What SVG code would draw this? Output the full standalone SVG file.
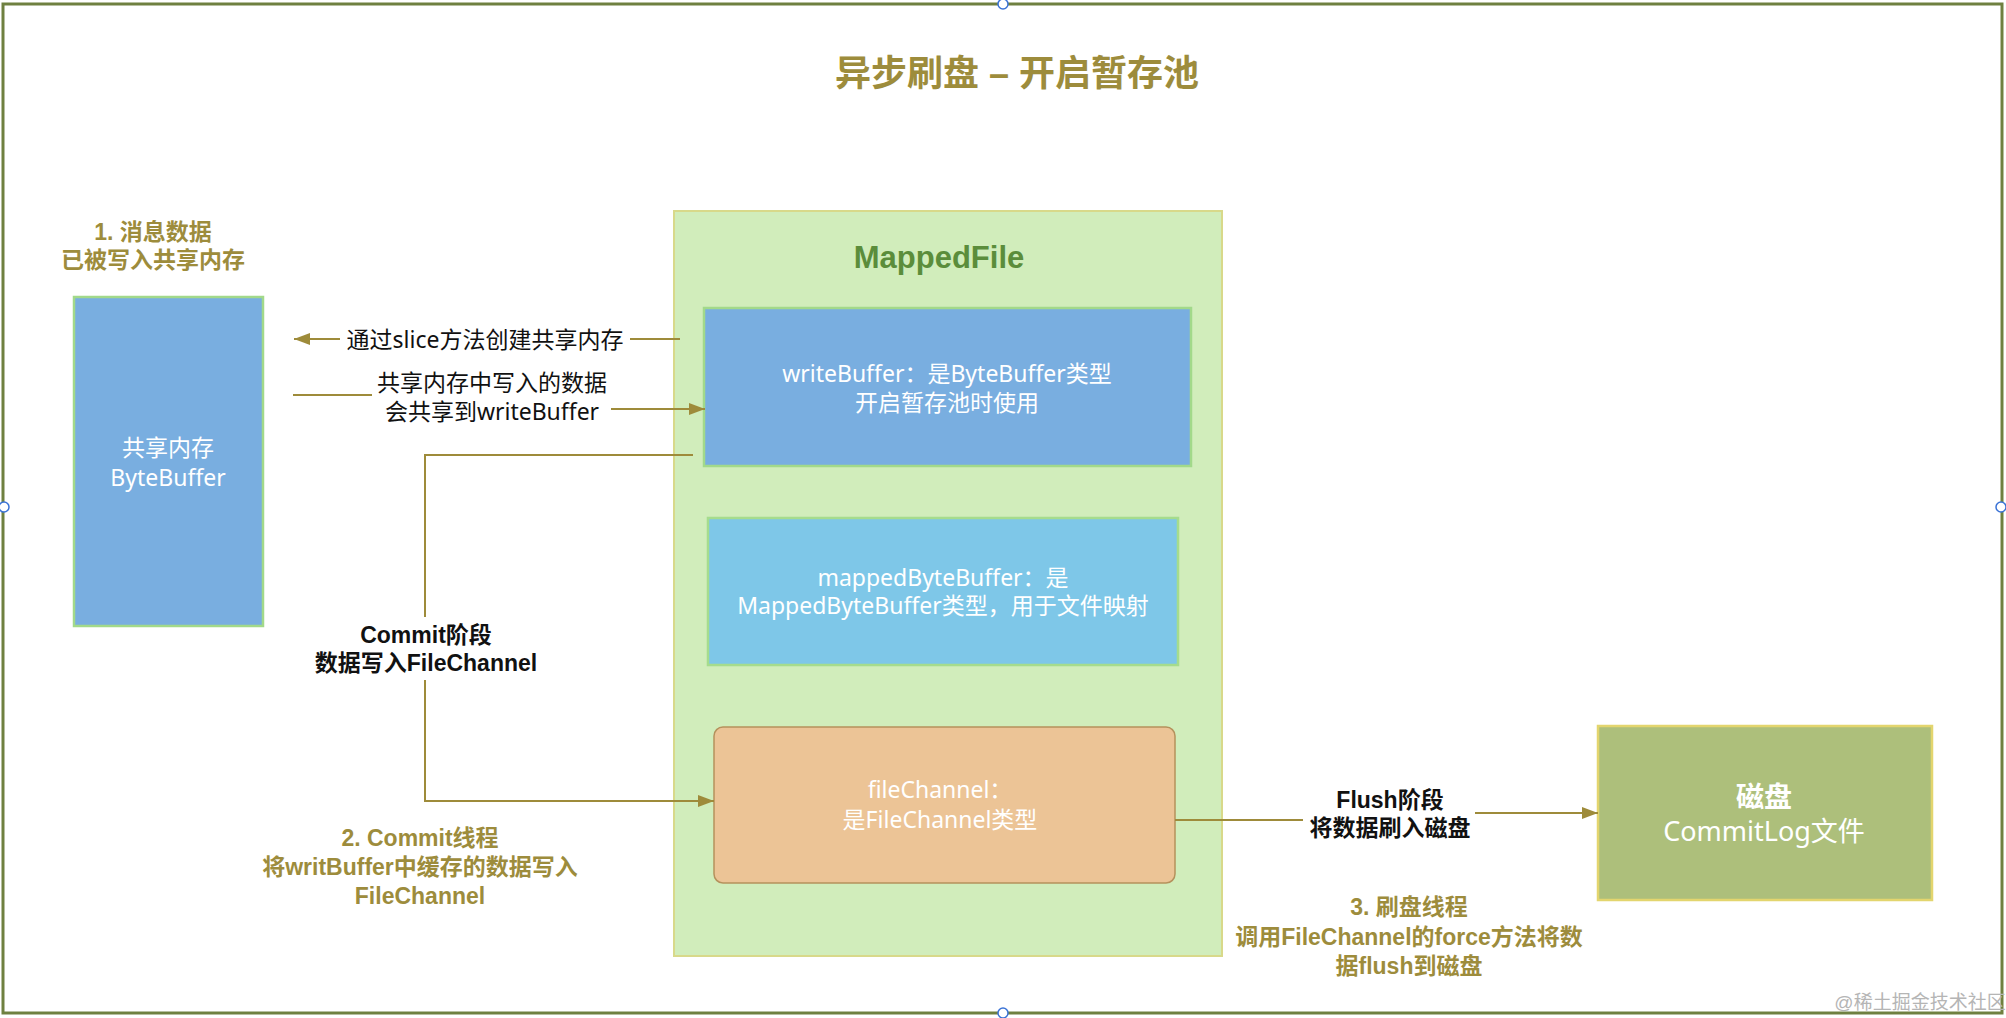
<svg xmlns="http://www.w3.org/2000/svg" width="2006" height="1018" viewBox="0 0 2006 1018">
<defs>
<style>
text{font-family:"Liberation Sans","Noto Sans CJK SC",sans-serif;text-anchor:middle;dominant-baseline:central}
.olive{fill:#9d8c3c;font-weight:bold;font-size:23px}
.lbl{fill:#111;font-size:23px;font-family:"Noto Sans","Noto Sans CJK SC",sans-serif}
.lblb{fill:#111;font-size:23px;font-weight:bold}
.wt{fill:#fff;font-size:23px;font-family:"Noto Sans","Noto Sans CJK SC",sans-serif}
.conn{fill:none;stroke:#9e8b3a;stroke-width:2;marker-end:url(#ah)}
.bg{fill:#fff}
.handle{fill:#fff;stroke:#3b73d6;stroke-width:1.5}
</style>
<marker id="ah" markerWidth="16" markerHeight="12" refX="16" refY="6" orient="auto" markerUnits="userSpaceOnUse"><path d="M0,0 L16,6 L0,12 z" fill="#9e8b3a"/></marker>
</defs>
<rect width="2006" height="1018" fill="#fff"/>
<rect id="frame" x="3" y="4" width="1999" height="1009" fill="#fff" stroke="#6f8040" stroke-width="3"/>
<text x="1017" y="73" style="fill:#9d8c3c;font-weight:bold;font-size:36px">异步刷盘 – 开启暂存池</text>

<g id="mappedFile">
<rect x="674" y="211" width="548" height="745" fill="#d1edbb" stroke="#d8d98a" stroke-width="2"/>
<text x="939" y="257" style="fill:#5b8d3b;font-weight:bold;font-size:31px">MappedFile</text>
</g>
<g id="writeBuffer">
<rect x="704" y="308" width="487" height="158" fill="#79aee0" stroke="#a2d98a" stroke-width="2.5"/>
<text class="wt" x="947" y="373">writeBuffer：是ByteBuffer类型</text>
<text class="wt" x="947" y="402">开启暂存池时使用</text>
</g>
<g id="mappedByteBuffer">
<rect x="708" y="518" width="470" height="147" fill="#7ec7e8" stroke="#a5dc8d" stroke-width="2.5"/>
<text class="wt" x="943" y="577">mappedByteBuffer：是</text>
<text class="wt" x="943" y="605">MappedByteBuffer类型，用于文件映射</text>
</g>
<g id="fileChannel">
<rect x="714" y="727" width="461" height="156" rx="9" fill="#ecc496" stroke="#b5915c" stroke-width="1.5"/>
<text class="wt" x="940" y="789">fileChannel：</text>
<text class="wt" x="940" y="819">是FileChannel类型</text>
</g>
<g id="byteBuffer">
<rect x="74" y="297" width="189" height="329" fill="#79aee0" stroke="#a2d98a" stroke-width="2.5"/>
<text class="wt" x="168" y="447">共享内存</text>
<text class="wt" x="168" y="477">ByteBuffer</text>
</g>
<g id="disk">
<rect x="1598" y="726" width="334" height="174" fill="#adbf7b" stroke="#e3d56e" stroke-width="2.5"/>
<text class="wt" x="1764" y="797" style="font-family:'Liberation Sans','Noto Sans CJK SC',sans-serif;font-weight:bold;font-size:28px">磁盘</text>
<text class="wt" x="1764" y="830" style="font-size:27px">CommitLog文件</text>
</g>

<g id="notes">
<text class="olive" x="153" y="232">1. 消息数据</text>
<text class="olive" x="153" y="260">已被写入共享内存</text>
<text class="olive" x="420" y="838">2. Commit线程</text>
<text class="olive" x="420" y="867">将writBuffer中缓存的数据写入</text>
<text class="olive" x="420" y="896">FileChannel</text>
<text class="olive" x="1409" y="907">3. 刷盘线程</text>
<text class="olive" x="1409" y="937">调用FileChannel的force方法将数</text>
<text class="olive" x="1409" y="966">据flush到磁盘</text>
</g>

<g id="connectors">
<path class="conn" d="M680,339 H294"/>
<rect class="bg" x="340" y="326" width="290" height="28"/>
<text class="lbl" x="485" y="339">通过slice方法创建共享内存</text>

<path class="conn" d="M293,395 H490 V409 H705"/>
<rect class="bg" x="372" y="368" width="239" height="56"/>
<text class="lbl" x="492" y="382">共享内存中写入的数据</text>
<text class="lbl" x="492" y="411">会共享到writeBuffer</text>

<path class="conn" d="M693,455 H425 V801 H714"/>
<rect class="bg" x="312" y="617" width="228" height="63"/>
<text class="lblb" x="426" y="635">Commit阶段</text>
<text class="lblb" x="426" y="663">数据写入FileChannel</text>

<path class="conn" d="M1175,820 H1390 V813 H1598"/>
<rect class="bg" x="1303" y="782" width="172" height="64"/>
<text class="lblb" x="1390" y="800">Flush阶段</text>
<text class="lblb" x="1390" y="828">将数据刷入磁盘</text>
</g>

<text x="1920" y="1002" style="fill:#b5b5b5;font-size:19px">@稀土掘金技术社区</text>
<g id="handles">
<circle class="handle" cx="1003" cy="4" r="5"/>
<circle class="handle" cx="4" cy="507" r="5"/>
<circle class="handle" cx="2001" cy="507" r="5"/>
<circle class="handle" cx="1003" cy="1013" r="5"/>
</g>
</svg>
